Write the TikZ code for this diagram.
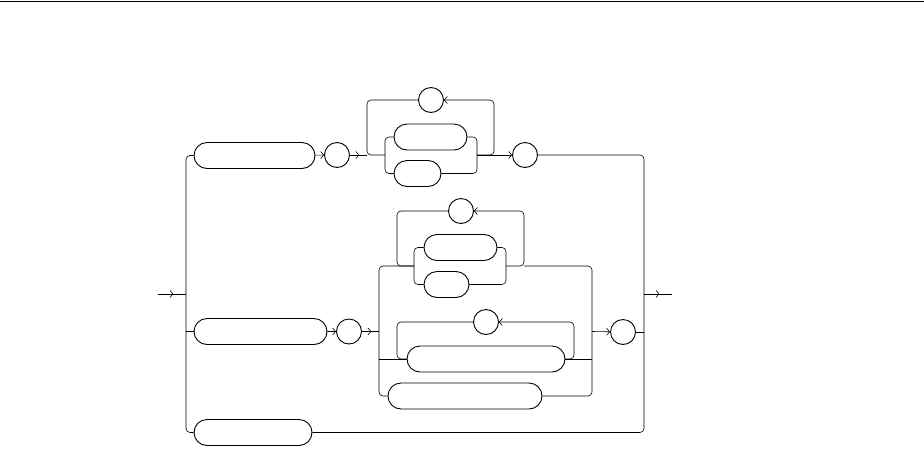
\documentclass[tikz,border=0pt]{standalone}
\usetikzlibrary{arrows.meta,shapes.misc,decorations.markings}
\tikzset{
    base/.style={inner sep=0pt, line width=0.9pt},
    terminal/.style={base, draw, rounded rectangle, minimum height=26pt},
    token/.style={base, draw, circle, minimum size=25pt},
    rail/.style={line width=0.6pt, rounded corners=4pt},
    flow/.style={rail, -{Straight Barb[length=3pt,width=7pt]}},
    midflow/.style={rail, postaction={decorate},
                    decoration={markings, mark=at position 0.55 with {\arrow{Straight Barb[length=3pt,width=7pt]}}}}
}
\begin{document}
\begin{tikzpicture}[x=1pt, y=-1pt]
  \useasboundingbox (0,0) rectangle (924,448);
  \draw[line width=1pt] (0,1) -- (924,1);

  % Rails and junctions
  \coordinate (in) at (158,294);
  \coordinate (lr) at (186,294);
  \coordinate (rr) at (644,294);
  \coordinate (out) at (672,294);
  \coordinate (j1a) at (367,155);
  \coordinate (c1a) at (385,155);
  \coordinate (c1b) at (477,155);
  \coordinate (j1b) at (494,155);
  \coordinate (ol) at (379,331.5);
  \coordinate (orr) at (592,331.5);
  \coordinate (j2a) at (397,266);
  \coordinate (c2a) at (414,266);
  \coordinate (c2b) at (506,266);
  \coordinate (j2b) at (524,266);
  \coordinate (j3a) at (397,359);
  \coordinate (j3b) at (574,359);

  % First branch
  \node[terminal, minimum width=121pt] (termA) at (254.5,155.5) {};
  \node[token] (tokB) at (337,155) {};
  \node[token] (tokL1) at (431,100) {};
  \node[terminal, minimum width=73pt] (termC1) at (430.5,137) {};
  \node[terminal, minimum width=47pt] (termC2) at (417.5,173.5) {};
  \node[token] (tokD) at (525,155) {};

  % Second branch
  \node[terminal, minimum width=133pt] (termE) at (260.5,331.5) {};
  \node[token] (tokF) at (349,331.5) {};
  \node[token] (tokL2) at (461,211) {};
  \node[terminal, minimum width=73pt] (termG1) at (460.5,247.5) {};
  \node[terminal, minimum width=45pt] (termG2) at (446.5,284.5) {};
  \node[token] (tokL3) at (486,322) {};
  \node[terminal, minimum width=158pt] (termH) at (486,359) {};
  \node[terminal, minimum width=154pt] (termI) at (465,396) {};
  \node[token] (tokJ) at (623,332) {};

  % Third branch
  \node[terminal, minimum width=118pt] (termK) at (253,432.5) {};

  % Outer rails
  \draw[midflow] (in) -- (lr);
  \draw[midflow] (rr) -- (out);
  \draw[rail] (termA.west) -| (lr) |- (termK.west);
  \draw[rail] (tokD.east) -| (rr) |- (termK.east);

  % First branch connectors
  \draw[flow] (termA) -- (tokB);
  \draw[midflow] (tokB) -- (j1a);
  \draw[rail] (c1a) -- (j1a) |- (tokL1.west);
  \draw[flow] (c1b) -- (j1b) |- (tokL1.east);
  \draw[rail] (termC1.west) -| (c1a) |- (termC2.west);
  \draw[rail] (termC1.east) -| (c1b) |- (termC2.east);
  \draw[flow] (c1b) -- (tokD);

  % Second branch connectors
  \draw[rail] (lr |- termE.west) -- (termE.west);
  \draw[flow] (termE) -- (tokF);
  \draw[midflow] (tokF) -- (ol);
  \draw[rail] (termI.west) -| (ol) |- (c2a);
  \draw[rail] (termI.east) -| (orr) |- (j2b);
  \draw[rail] (ol |- termH.west) -- (termH.west);
  \draw[rail] (termH.east) -- (orr |- termH.east);
  \draw[rail] (c2a) -- (j2a) |- (tokL2.west);
  \draw[flow] (c2b) -- (j2b) |- (tokL2.east);
  \draw[rail] (termG1.west) -| (c2a) |- (termG2.west);
  \draw[rail] (termG1.east) -| (c2b) |- (termG2.east);
  \draw[rail] (termH.west) -- (j3a) |- (tokL3.west);
  \draw[flow] (termH.east) -- (j3b) |- (tokL3.east);
  \draw[flow] (orr) -- (tokJ);
  \draw[rail] (tokJ.east) -- (rr |- tokJ.east);
\end{tikzpicture}
\end{document}
